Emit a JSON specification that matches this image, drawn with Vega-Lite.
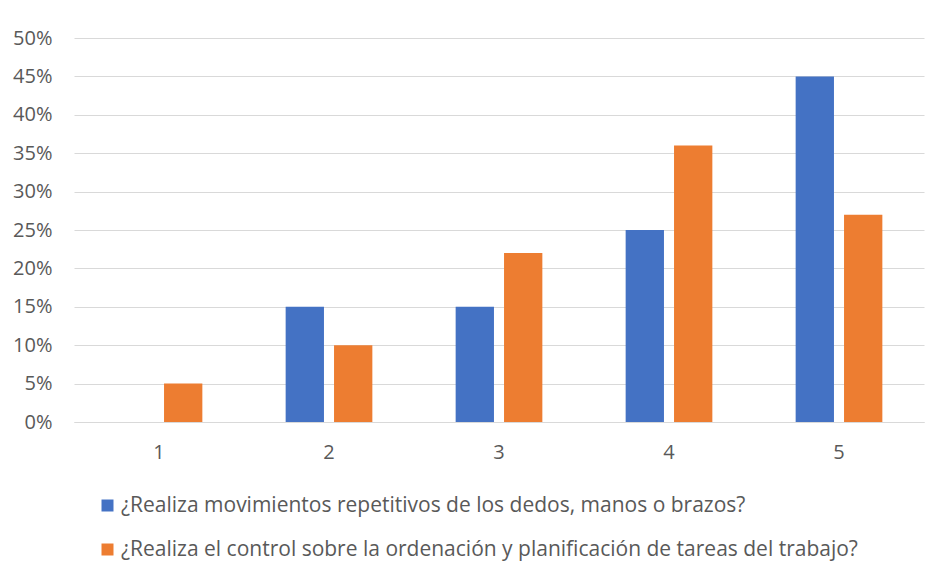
{
  "$schema": "https://vega.github.io/schema/vega-lite/v6.json",
  "width": 850,
  "height": 384,
  "autosize": {"type": "none"},
  "padding": {"left": 74, "top": 38, "right": 15, "bottom": 143},
  "background": "white",
  "config": {"view": {"stroke": null}, "font": "Open Sans"},
  "data": {
    "values": [
      {"cat": "1", "serie": "¿Realiza movimientos repetitivos de los dedos, manos o brazos?", "valor": 0},
      {"cat": "2", "serie": "¿Realiza movimientos repetitivos de los dedos, manos o brazos?", "valor": 0.15},
      {"cat": "3", "serie": "¿Realiza movimientos repetitivos de los dedos, manos o brazos?", "valor": 0.15},
      {"cat": "4", "serie": "¿Realiza movimientos repetitivos de los dedos, manos o brazos?", "valor": 0.25},
      {"cat": "5", "serie": "¿Realiza movimientos repetitivos de los dedos, manos o brazos?", "valor": 0.45},
      {"cat": "1", "serie": "¿Realiza el control sobre la ordenación y planificación de tareas del trabajo?", "valor": 0.05},
      {"cat": "2", "serie": "¿Realiza el control sobre la ordenación y planificación de tareas del trabajo?", "valor": 0.10},
      {"cat": "3", "serie": "¿Realiza el control sobre la ordenación y planificación de tareas del trabajo?", "valor": 0.22},
      {"cat": "4", "serie": "¿Realiza el control sobre la ordenación y planificación de tareas del trabajo?", "valor": 0.36},
      {"cat": "5", "serie": "¿Realiza el control sobre la ordenación y planificación de tareas del trabajo?", "valor": 0.27}
    ]
  },
  "mark": {"type": "bar"},
  "encoding": {
    "x": {
      "field": "cat", "type": "nominal",
      "scale": {"paddingInner": 0.49, "paddingOuter": 0.245},
      "axis": {"title": null, "labelAngle": 0, "ticks": false, "domainColor": "#d9d9d9", "labelPadding": 20, "labelFontSize": 20, "labelColor": "#595959", "labelFont": "Open Sans"}
    },
    "xOffset": {
      "field": "serie", "type": "nominal",
      "sort": ["¿Realiza movimientos repetitivos de los dedos, manos o brazos?", "¿Realiza el control sobre la ordenación y planificación de tareas del trabajo?"],
      "scale": {"paddingInner": 0.208, "paddingOuter": 0}
    },
    "y": {
      "field": "valor", "type": "quantitative",
      "scale": {"domain": [0, 0.5]},
      "axis": {"title": null, "format": ".0%", "values": [0, 0.05, 0.1, 0.15, 0.2, 0.25, 0.3, 0.35, 0.4, 0.45, 0.5], "domain": false, "ticks": false, "labelPadding": 22, "gridColor": "#d9d9d9", "labelFontSize": 20, "labelColor": "#595959", "labelFont": "Open Sans"}
    },
    "color": {
      "field": "serie", "type": "nominal",
      "sort": ["¿Realiza movimientos repetitivos de los dedos, manos o brazos?", "¿Realiza el control sobre la ordenación y planificación de tareas del trabajo?"],
      "scale": {"range": ["#4472C4", "#ED7D31"]},
      "legend": {
        "title": null, "orient": "none", "legendX": 23, "legendY": 457, "direction": "vertical",
        "symbolType": "square", "symbolSize": 144, "symbolStrokeWidth": 0,
        "labelFont": "Open Sans", "labelFontSize": 21, "labelColor": "#595959", "labelLimit": 900, "rowPadding": 22, "labelOffset": 3
      }
    }
  }
}
